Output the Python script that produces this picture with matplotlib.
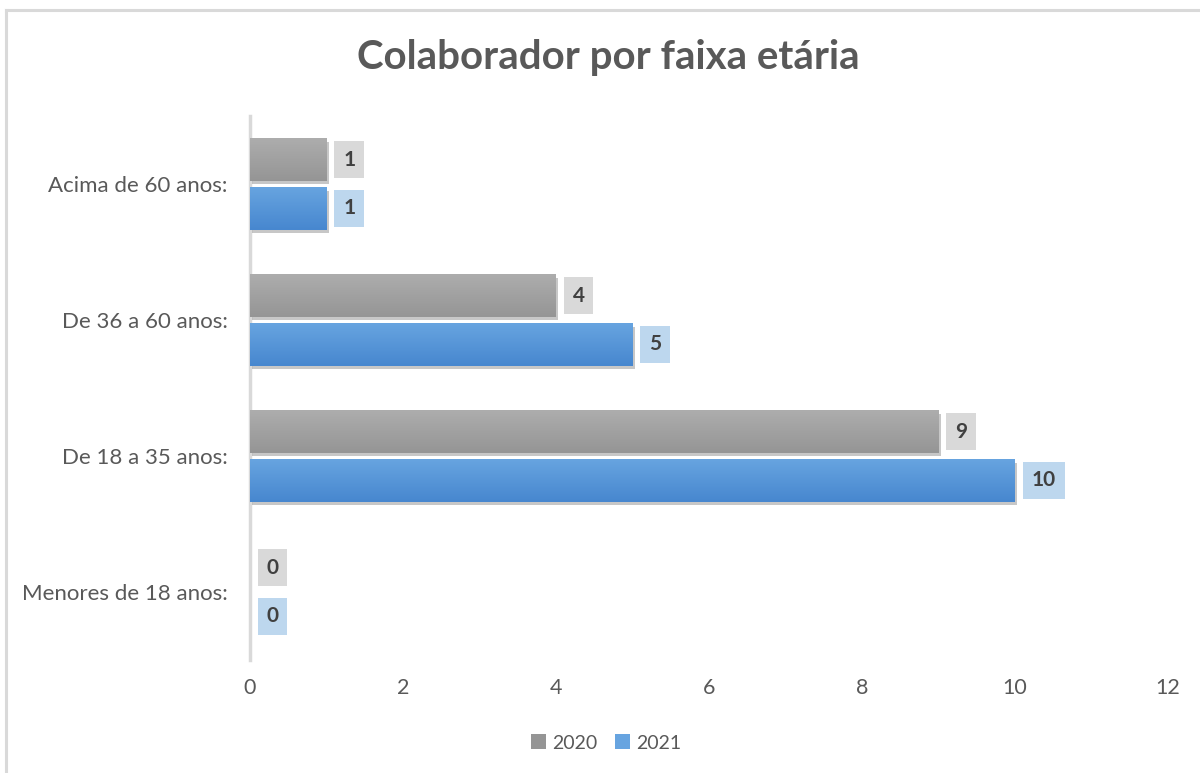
import matplotlib.pyplot as plt
import matplotlib.patheffects as pe
from matplotlib.lines import Line2D
from matplotlib.patches import Patch
import numpy as np

plt.rcParams['font.family'] = ['Lato', 'DejaVu Sans']

# data
categories = ["Menores de 18 anos:", "De 18 a 35 anos:", "De 36 a 60 anos:", "Acima de 60 anos:"]
years = ["2020", "2021"]
values_2020 = [0, 9, 4, 1]
values_2021 = [0, 10, 5, 1]
xticks = [0, 2, 4, 6, 8, 10, 12]

gray_top, gray_bot = "#adadad", "#959595"
blue_top, blue_bot = "#67a4e0", "#4787cf"
text_col = "#595959"

fig = plt.figure(figsize=(12, 7.73), dpi=100)
ax = fig.add_axes([250 / 1200, 1 - 660 / 773, 918 / 1200, 544 / 773])

# light border of the chart area (only left and top visible)
fig.add_artist(Line2D([6 / 1200, 6 / 1200], [0, 1 - 10 / 773], color="#d9d9d9", lw=2.2))
fig.add_artist(Line2D([6 / 1200, 1], [1 - 10 / 773, 1 - 10 / 773], color="#d9d9d9", lw=2.2))

y = np.arange(len(categories))
h = 0.31
off = 0.18


def hex2rgb(c):
    c = c.lstrip("#")
    return np.array([int(c[i:i + 2], 16) / 255 for i in (0, 2, 4)])


def draw_series(vals, ypos, top, bot, label_bg):
    bars = ax.barh(ypos, vals, height=h, color=bot, zorder=2)
    grad = np.linspace(0, 1, 50)[:, None, None]
    img = hex2rgb(bot) * grad + hex2rgb(top) * (1 - grad)
    for b, v in zip(bars, vals):
        b.set_path_effects([pe.SimplePatchShadow(offset=(1.5, -2.5), shadow_rgbFace="black", alpha=0.22), pe.Normal()])
        if v > 0:
            x0, y0 = b.get_x(), b.get_y()
            im = ax.imshow(img, extent=[x0, x0 + b.get_width(), y0, y0 + b.get_height()],
                           aspect="auto", origin="upper", zorder=3)
            im.set_clip_path(b)
        ax.annotate(str(v), (v, b.get_y() + b.get_height() / 2), xytext=(12, 0),
                    textcoords="offset points", ha="left", va="center",
                    fontsize=15, fontweight="bold", color="#404040", zorder=5,
                    bbox=dict(boxstyle="square,pad=0.42", fc=label_bg, ec="none"))


draw_series(values_2020, y + off, gray_top, gray_bot, "#d9d9d9")
draw_series(values_2021, y - off, blue_top, blue_bot, "#bdd7ee")

ax.set_xlim(0, 12)
ax.set_ylim(-0.5, 3.5)
ax.set_xticks(xticks)
ax.set_xticklabels([str(t) for t in xticks])
ax.set_yticks(y)
ax.set_yticklabels(categories)
ax.tick_params(axis="x", length=0, pad=13, labelsize=15.5, labelcolor=text_col)
ax.tick_params(axis="y", length=0, pad=16, labelsize=16, labelcolor=text_col)
for s in ["top", "right", "bottom"]:
    ax.spines[s].set_visible(False)
ax.spines["left"].set_color("#d9d9d9")
ax.spines["left"].set_linewidth(2.5)
ax.spines["left"].set_zorder(1)

fig.text(0.507, 1 - 58 / 773, "Colaborador por faixa etária", ha="center", va="center",
         fontsize=29, fontweight="bold", color=text_col)

handles = [Patch(facecolor=gray_bot, edgecolor="none"), Patch(facecolor=blue_top, edgecolor="none")]
fig.legend(handles, years, loc="center", bbox_to_anchor=(0.505, 1 - 743 / 773), ncol=2,
           frameon=False, fontsize=14, labelcolor=text_col, handlelength=0.8, handleheight=0.8,
           handletextpad=0.3, columnspacing=0.9)

fig.savefig("out.png", dpi=100)
